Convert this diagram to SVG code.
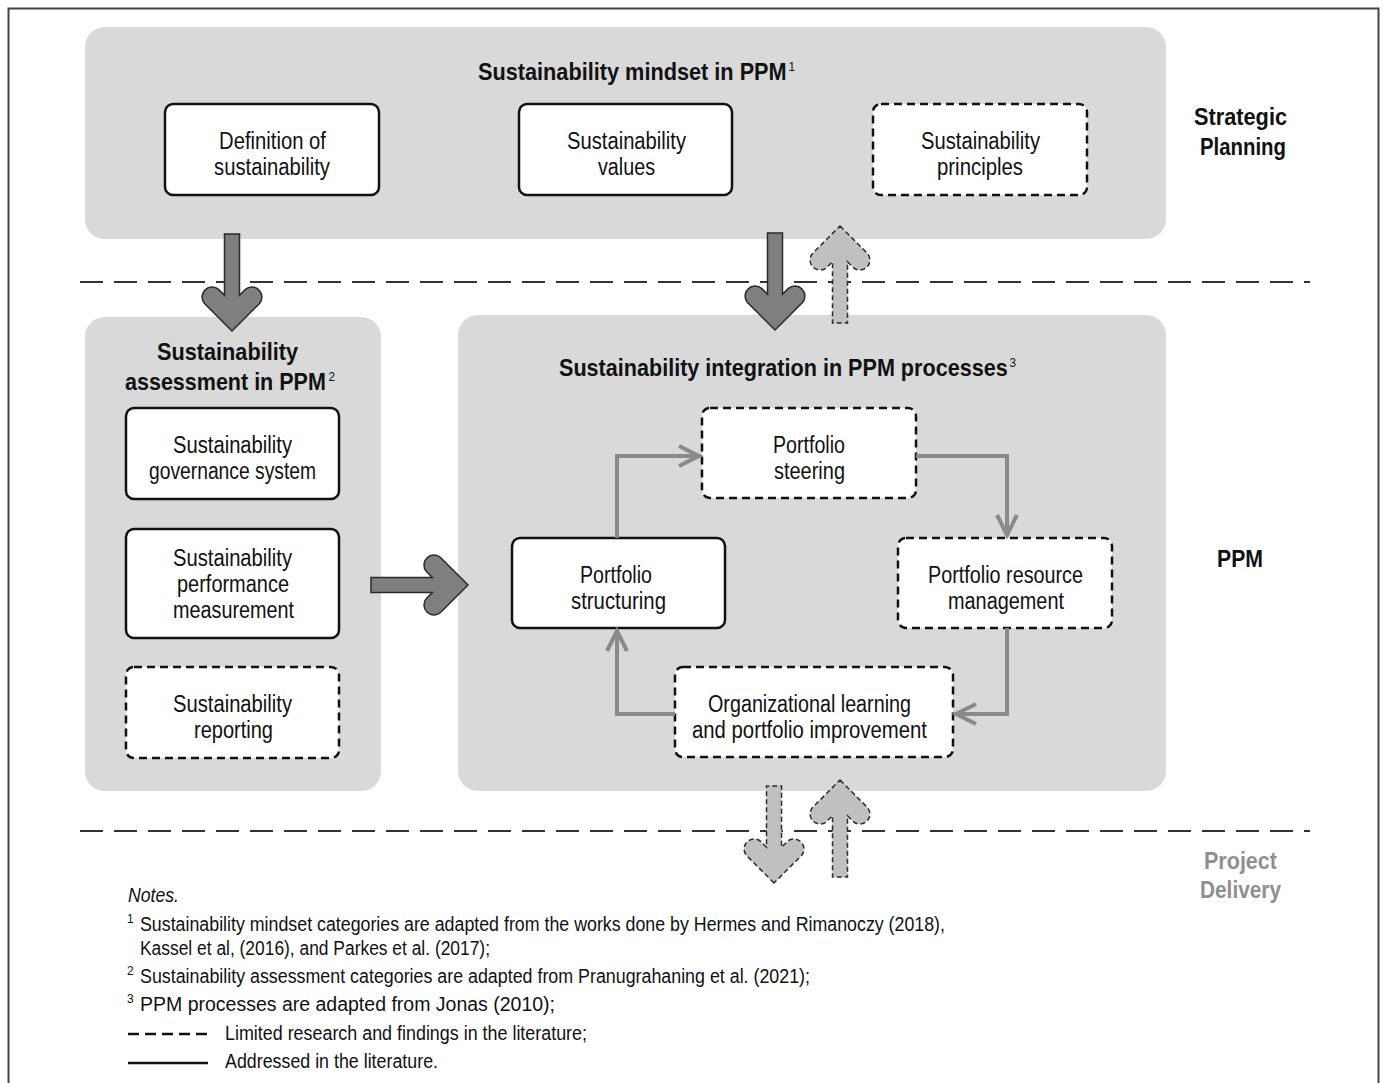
<svg xmlns="http://www.w3.org/2000/svg" width="1383" height="1083" viewBox="0 0 1383 1083">
<style>
.panel{fill:#d9d9d9;}
.box{fill:#fff;stroke:#111;stroke-width:2.5;}
.dash{stroke-dasharray:8 5;}
.t{font-family:"Liberation Sans",Arial,sans-serif;font-size:23px;fill:#111;}
.b{font-family:"Liberation Sans",Arial,sans-serif;font-size:24px;font-weight:bold;fill:#111;}
.s{font-size:13px;font-weight:normal;}
.sup{font-family:"Liberation Sans",Arial,sans-serif;font-size:12px;fill:#111;}
.n{font-family:"Liberation Sans",Arial,sans-serif;font-size:20px;fill:#111;}
.sep{stroke:#333;stroke-width:2;stroke-dasharray:23 11;fill:none;}
.flow{fill:none;stroke:#8a8a8a;stroke-width:4;}
.big{fill:#7f7f7f;stroke:#2a2a2a;stroke-width:1.5;}
.lite{fill:#c0c0c0;stroke:#2a2a2a;stroke-width:1.5;stroke-dasharray:5 3;}
</style>
<defs>
<path id="arr" d="M 0,0 L -27.5,-27.5 A 10 10 0 0 1 -13.4,-41.6 L -7.5,-35.7 L -7.5,-97 L 7.5,-97 L 7.5,-35.7 L 13.4,-41.6 A 10 10 0 0 1 27.5,-27.5 Z"/>
<marker id="chev" viewBox="-24 -13 28 26" refX="0" refY="0" markerWidth="28" markerHeight="26" markerUnits="userSpaceOnUse" orient="auto">
<path d="M -20,-10 L 0,0 L -20,10" fill="none" stroke="#8a8a8a" stroke-width="4" stroke-linejoin="miter"/>
</marker>
</defs>
<rect x="0" y="0" width="1383" height="1083" fill="#fff"/>
<rect x="8.5" y="8.5" width="1370" height="1090" fill="none" stroke="#444" stroke-width="2"/>

<g id="panel-mindset"><rect class="panel" x="85" y="27" width="1081" height="212" rx="20"/>
<text class="b" x="478" y="80" textLength="317" lengthAdjust="spacingAndGlyphs">Sustainability mindset in PPM<tspan class="s" dx="2" dy="-9">1</tspan></text></g>
<g id="panel-assessment"><rect class="panel" x="85" y="317" width="296" height="474" rx="20"/>
<text class="b" x="157" y="360" textLength="141" lengthAdjust="spacingAndGlyphs">Sustainability</text>
<text class="b" x="125" y="390" textLength="210" lengthAdjust="spacingAndGlyphs">assessment in PPM<tspan class="s" dx="3" dy="-9">2</tspan></text></g>
<g id="panel-integration"><rect class="panel" x="458" y="315" width="708" height="476" rx="20"/>
<text class="b" x="559" y="376" textLength="457" lengthAdjust="spacingAndGlyphs">Sustainability integration in PPM processes<tspan class="s" dx="2" dy="-9">3</tspan></text></g>

<g id="separators">
<line class="sep" x1="80" y1="282" x2="1310" y2="282"/>
<line class="sep" x1="80" y1="831" x2="1310" y2="831"/>
</g>

<g id="n-definition"><rect class="box" x="165" y="104" width="214" height="91" rx="8"/>
<text class="t" x="219" y="149" textLength="107" lengthAdjust="spacingAndGlyphs">Definition of</text>
<text class="t" x="214" y="175" textLength="116" lengthAdjust="spacingAndGlyphs">sustainability</text></g>
<g id="n-values"><rect class="box" x="519" y="104" width="213" height="91" rx="8"/>
<text class="t" x="567" y="149" textLength="119" lengthAdjust="spacingAndGlyphs">Sustainability</text>
<text class="t" x="598" y="175" textLength="57" lengthAdjust="spacingAndGlyphs">values</text></g>
<g id="n-principles"><rect class="box dash" x="873" y="104" width="214" height="91" rx="8"/>
<text class="t" x="921" y="149" textLength="119" lengthAdjust="spacingAndGlyphs">Sustainability</text>
<text class="t" x="937" y="175" textLength="86" lengthAdjust="spacingAndGlyphs">principles</text></g>

<g id="n-governance"><rect class="box" x="126" y="408" width="213" height="91" rx="8"/>
<text class="t" x="173" y="453" textLength="119" lengthAdjust="spacingAndGlyphs">Sustainability</text>
<text class="t" x="149" y="479" textLength="167" lengthAdjust="spacingAndGlyphs">governance system</text></g>
<g id="n-performance"><rect class="box" x="126" y="529" width="213" height="109" rx="8"/>
<text class="t" x="173" y="566" textLength="119" lengthAdjust="spacingAndGlyphs">Sustainability</text>
<text class="t" x="177" y="592" textLength="112" lengthAdjust="spacingAndGlyphs">performance</text>
<text class="t" x="173" y="618" textLength="121" lengthAdjust="spacingAndGlyphs">measurement</text></g>
<g id="n-reporting"><rect class="box dash" x="126" y="667" width="213" height="91" rx="8"/>
<text class="t" x="173" y="712" textLength="119" lengthAdjust="spacingAndGlyphs">Sustainability</text>
<text class="t" x="194" y="738" textLength="79" lengthAdjust="spacingAndGlyphs">reporting</text></g>

<g id="n-steering"><rect class="box dash" x="702" y="408" width="214" height="90" rx="8"/>
<text class="t" x="773" y="453" textLength="72" lengthAdjust="spacingAndGlyphs">Portfolio</text>
<text class="t" x="774" y="479" textLength="71" lengthAdjust="spacingAndGlyphs">steering</text></g>
<g id="n-structuring"><rect class="box" x="512" y="538" width="213" height="90" rx="8"/>
<text class="t" x="580" y="583" textLength="72" lengthAdjust="spacingAndGlyphs">Portfolio</text>
<text class="t" x="571" y="609" textLength="95" lengthAdjust="spacingAndGlyphs">structuring</text></g>
<g id="n-resource"><rect class="box dash" x="898" y="538" width="214" height="90" rx="8"/>
<text class="t" x="928" y="583" textLength="155" lengthAdjust="spacingAndGlyphs">Portfolio resource</text>
<text class="t" x="948" y="609" textLength="116" lengthAdjust="spacingAndGlyphs">management</text></g>
<g id="n-learning"><rect class="box dash" x="675" y="667" width="278" height="90" rx="8"/>
<text class="t" x="708" y="712" textLength="203" lengthAdjust="spacingAndGlyphs">Organizational learning</text>
<text class="t" x="692" y="738" textLength="235" lengthAdjust="spacingAndGlyphs">and portfolio improvement</text></g>

<g id="levels">
<text class="b" x="1194" y="125" textLength="93" lengthAdjust="spacingAndGlyphs">Strategic</text>
<text class="b" x="1200" y="155" textLength="86" lengthAdjust="spacingAndGlyphs">Planning</text>
<text class="b" x="1217" y="567" textLength="46" lengthAdjust="spacingAndGlyphs">PPM</text>
<text class="b" x="1204" y="869" textLength="73" lengthAdjust="spacingAndGlyphs" style="fill:#8f8f8f">Project</text>
<text class="b" x="1200" y="898" textLength="81" lengthAdjust="spacingAndGlyphs" style="fill:#8f8f8f">Delivery</text>
</g>

<g id="connectors">
<use href="#arr" class="big" transform="translate(232,331)"/>
<use href="#arr" class="big" transform="translate(775,330)"/>
<use href="#arr" class="lite" transform="translate(840,226) rotate(180)"/>
<use href="#arr" class="big" transform="translate(468,585) rotate(-90)"/>
<use href="#arr" class="lite" transform="translate(774,883)"/>
<use href="#arr" class="lite" transform="translate(840,780) rotate(180)"/>
<polyline class="flow" points="617,538 617,456 699,456" marker-end="url(#chev)"/>
<polyline class="flow" points="916,456 1007,456 1007,535" marker-end="url(#chev)"/>
<polyline class="flow" points="1007,628 1007,714 956,714" marker-end="url(#chev)"/>
<polyline class="flow" points="675,714 617,714 617,631" marker-end="url(#chev)"/>
</g>

<g id="notes">
<text class="n" x="128" y="902" font-style="italic" textLength="51" lengthAdjust="spacingAndGlyphs">Notes.</text>
<text class="sup" x="127" y="923">1</text>
<text class="n" x="140" y="931" textLength="805" lengthAdjust="spacingAndGlyphs">Sustainability mindset categories are adapted from the works done by Hermes and Rimanoczy (2018),</text>
<text class="n" x="140" y="955" textLength="350" lengthAdjust="spacingAndGlyphs">Kassel et al, (2016), and Parkes et al. (2017);</text>
<text class="sup" x="127" y="975">2</text>
<text class="n" x="140" y="983" textLength="670" lengthAdjust="spacingAndGlyphs">Sustainability assessment categories are adapted from Pranugrahaning et al. (2021);</text>
<text class="sup" x="127" y="1003">3</text>
<text class="n" x="140" y="1011" textLength="415" lengthAdjust="spacingAndGlyphs">PPM processes are adapted from Jonas (2010);</text>
<line x1="128" y1="1034" x2="208" y2="1034" stroke="#111" stroke-width="2.5" stroke-dasharray="11 6"/>
<text class="n" x="225" y="1040" textLength="362" lengthAdjust="spacingAndGlyphs">Limited research and findings in the literature;</text>
<line x1="128" y1="1063" x2="208" y2="1063" stroke="#111" stroke-width="2.5"/>
<text class="n" x="225" y="1068" textLength="213" lengthAdjust="spacingAndGlyphs">Addressed in the literature.</text>
</g>
</svg>
